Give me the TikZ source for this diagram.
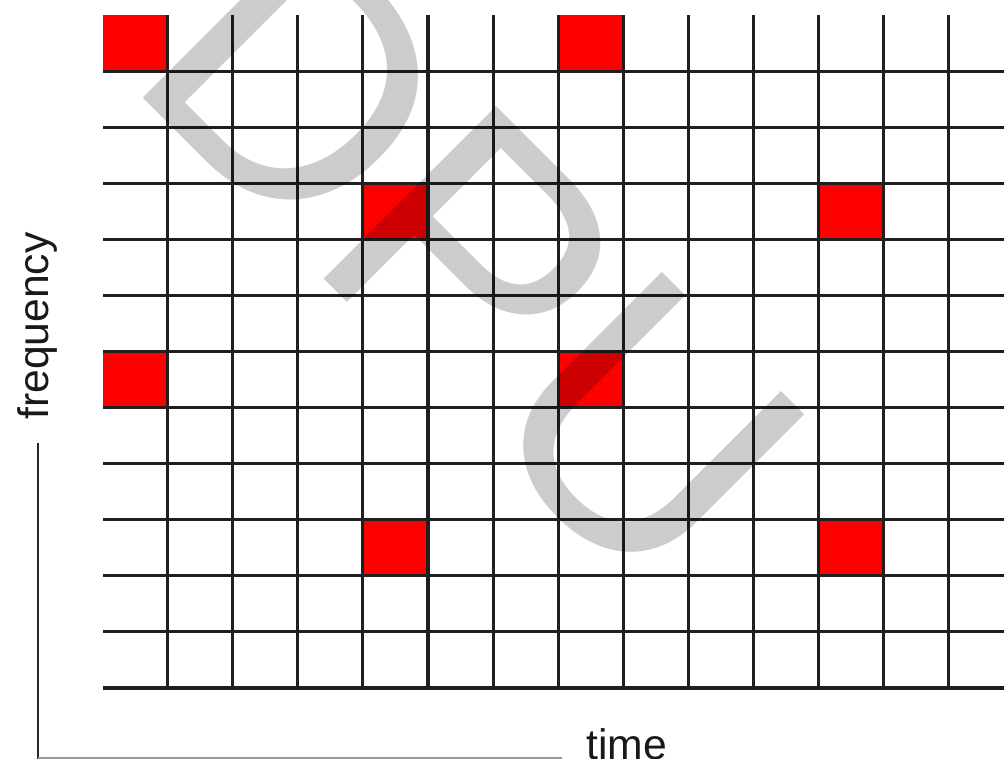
\documentclass[tikz,border=0pt]{standalone}
\usepackage{fontspec}
\setmainfont{Liberation Sans}
\begin{document}
\begin{tikzpicture}[x=0.75pt,y=-0.75pt,
  gridline/.style={line width=2.3pt, draw=black!88},
  cell/.style={fill=red},
  axisline/.style={line width=2pt, draw=black!85},
  axislabel/.style={inner sep=0pt, text=black!90, font=\fontsize{32}{32}\selectfont},
  watermark/.style={inner sep=0pt, text=black, text opacity=0.2, font=\fontsize{266}{266}\selectfont}]
\path[use as bounding box] (0,0) rectangle (1004,758);
\clip (0,0) rectangle (1004,758);
\fill[white] (0,0) rectangle (1004,758);
% red cells
\foreach \c/\r in {0/0,7/0,4/3,11/3,0/6,7/6,4/9,11/9}
  \fill[cell] ({102.5+65.1*\c},{15+56.08*\r}) rectangle ({102.5+65.1*(\c+1)},{15+56.08*(\r+1)});
% grid
\foreach \k in {1,...,13}
  \draw[gridline] ({102.5+65.1*\k},15) -- ({102.5+65.1*\k},688);
\foreach \j in {1,...,12}
  \draw[gridline] (102.5,{15+56.08*\j}) -- (1004,{15+56.08*\j});
% watermark
\node[watermark, rotate=-45, anchor=base west] (wm) at (122,77) {DPU};
% axes
\coordinate (ytop) at (38,443);
\coordinate (orig) at (38,758.5);
\coordinate (xend) at (562,758.5);
\draw[axisline] (ytop) -- (orig);
\draw[axisline, draw=black!40] (orig) -- (xend);
\node[axislabel, rotate=90, anchor=base] (freq) at (48,326) {frequency};
\node[axislabel, anchor=base west] (time) at (586,759) {time};
\end{tikzpicture}
\end{document}
